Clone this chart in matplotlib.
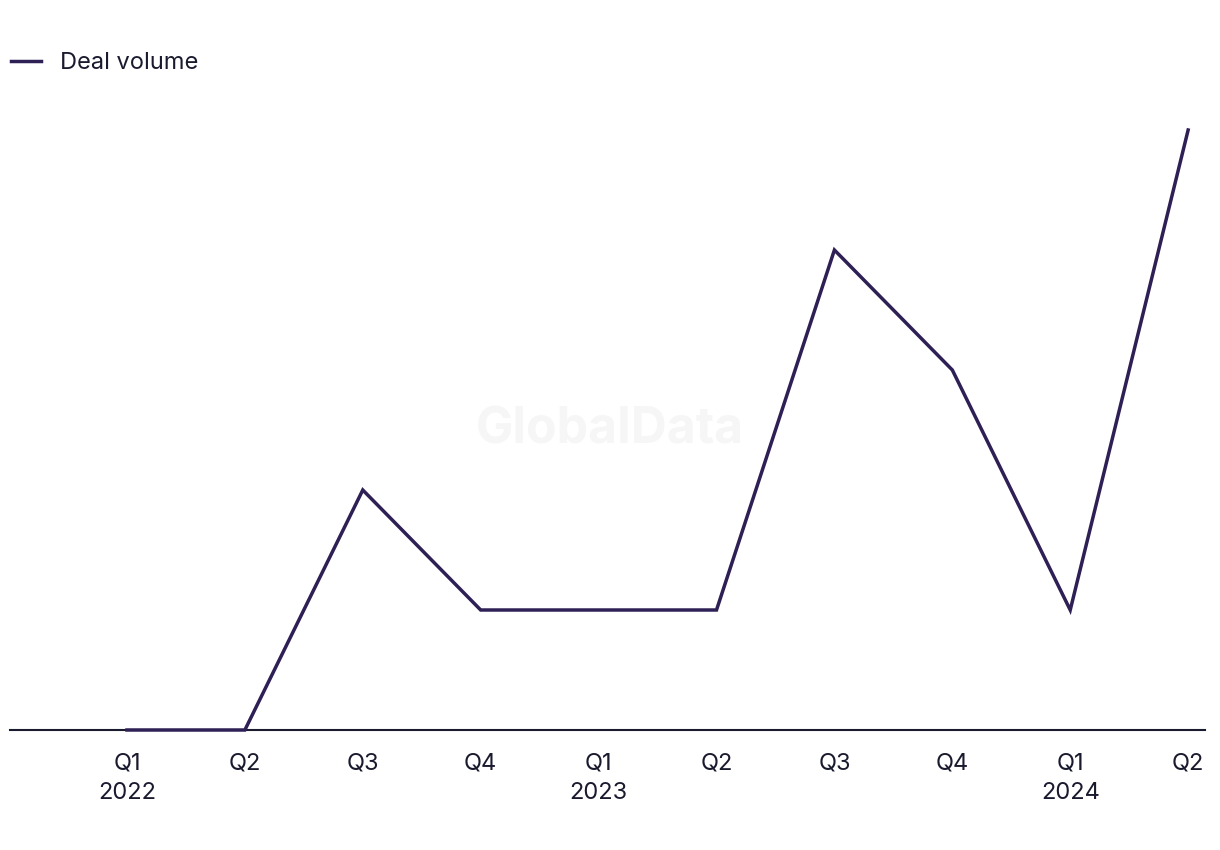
import matplotlib.pyplot as plt
from matplotlib.lines import Line2D

plt.rcParams["font.family"] = ["Inter", "DejaVu Sans"]

# Data
quarters = ["Q1", "Q2", "Q3", "Q4", "Q1", "Q2", "Q3", "Q4", "Q1", "Q2"]
years = ["2022", "", "", "", "2023", "", "", "", "2024", ""]
deal_volume = [0, 0, 2, 1, 1, 1, 4, 3, 1, 5]

line_color = "#2e1f55"

fig = plt.figure(figsize=(12.2, 8.5), dpi=100)
ax = fig.add_axes([10 / 1220, 1 - 730 / 850, 1195 / 1220, 630 / 850])

x = list(range(len(deal_volume)))
ax.plot(x, deal_volume, color=line_color, linewidth=2.5, clip_on=False,
        solid_joinstyle="miter", zorder=3)

ax.set_xlim(-0.992, 9.143)
ax.set_ylim(0, 5.25)

for side in ["top", "right", "left"]:
    ax.spines[side].set_visible(False)
ax.spines["bottom"].set_color("#1a1a2e")
ax.spines["bottom"].set_linewidth(1.5)

labels = [q if not y else f"{q}\n{y}" for q, y in zip(quarters, years)]
ax.set_xticks(x)
ax.set_xticklabels(labels, fontsize=17, color="#1a1a2e", linespacing=1.45,
                   va="top")
ax.tick_params(axis="x", length=0, pad=16)
ax.set_yticks([])

# Watermark
ax.text(0.5, 0.494, "GlobalData", transform=fig.transFigure, ha="center",
        va="center", fontsize=36, fontweight="bold", color="#f6f6f6",
        zorder=0)

handle = Line2D([], [], color=line_color, linewidth=2.5)
fig.legend([handle], ["Deal volume"], loc="center left",
           bbox_to_anchor=(2 / 1220, 1 - 63 / 850), frameon=False,
           fontsize=17, handlelength=1.25, handletextpad=0.8,
           labelcolor="#1a1a2e", borderaxespad=0)

fig.savefig("out.png", dpi=100)
